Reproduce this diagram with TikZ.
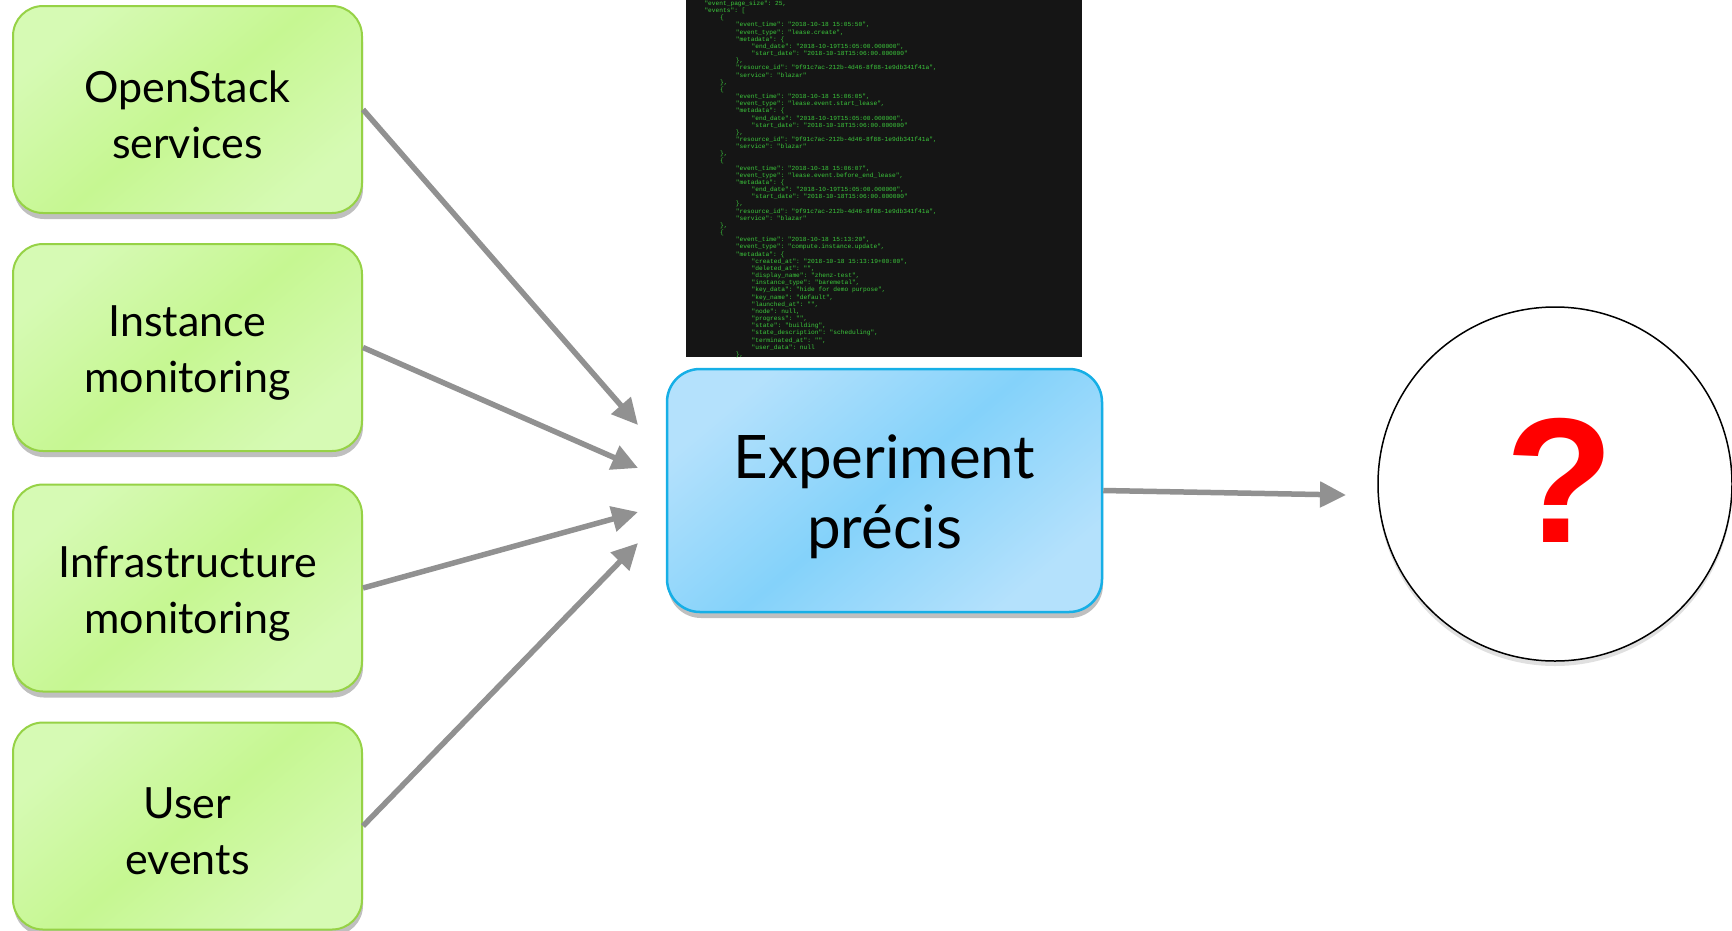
\documentclass[tikz,border=0pt]{standalone}
\usepackage{fontspec}
\setmainfont{Lato}
\setmonofont{Liberation Mono}
\newfontfamily\qfont{Liberation Sans}
\usetikzlibrary{arrows.meta,shadows}
\definecolor{greenlight}{RGB}{214,250,180}
\definecolor{greenmid}{RGB}{198,247,146}
\definecolor{greenborder}{RGB}{150,210,70}
\definecolor{bluelight}{RGB}{180,225,252}
\definecolor{bluemid}{RGB}{132,210,250}
\definecolor{blueborder}{RGB}{22,175,230}
\definecolor{arrowgray}{RGB}{145,145,145}
\definecolor{termbg}{RGB}{21,21,21}
\definecolor{termgreen}{RGB}{60,200,60}
\definecolor{qred}{RGB}{255,0,0}
\tikzset{
  srcbox/.style={draw=greenborder, line width=2pt, rounded corners=30pt,
    minimum width=349pt, minimum height=207pt, inner sep=0pt,
    top color=greenlight, bottom color=greenlight, middle color=greenmid, shading angle=40,
    drop shadow={shadow xshift=1pt, shadow yshift=-6pt, opacity=0.25, fill=black}},
  srctext/.style={inner sep=0pt, align=center, font=\fontsize{43}{56}\selectfont},
  midbox/.style={draw=blueborder, line width=2.5pt, rounded corners=33pt,
    minimum width=435pt, minimum height=243pt, inner sep=0pt,
    top color=bluelight, bottom color=bluelight, middle color=bluemid, shading angle=40,
    drop shadow={shadow xshift=1pt, shadow yshift=-6pt, opacity=0.25, fill=black}},
  midtext/.style={inner sep=0pt, align=center, font=\fontsize{60}{70}\selectfont},
  outcircle/.style={circle, draw=black, line width=1.5pt, fill=white, minimum size=354pt, inner sep=0pt,
    drop shadow={shadow xshift=0pt, shadow yshift=-5pt, opacity=0.12, fill=black}},
  qmark/.style={text=qred, inner sep=0pt, font=\qfont\bfseries\fontsize{178}{178}\selectfont},
  term/.style={fill=termbg, draw=none, minimum width=396pt, minimum height=357pt, inner sep=0pt, anchor=north west},
  jline/.style={text=termgreen, inner sep=0pt, anchor=base west, font=\ttfamily\fontsize{6.2}{7}\selectfont},
  flow/.style={draw=arrowgray, line width=5.5pt, -{Triangle[length=26pt,width=25pt]}}
}
\newcommand\jl[3]{\node[jline] (j#2) at ({704.3+15.7*#1},{5.4+7.163*(#2-1)}) {#3};}
\begin{document}
\begin{tikzpicture}[x=1pt,y=-1pt]
\useasboundingbox (0,0) rectangle (1732,930);
% terminal
\node[term] (term) at (686,0) {};
\jl{0}{1}{"event\_page\_size": 25,}
\jl{0}{2}{"events": [}
\jl{1}{3}{\{}
\jl{2}{4}{"event\_time": "2018-10-18 15:05:50",}
\jl{2}{5}{"event\_type": "lease.create",}
\jl{2}{6}{"metadata": \{}
\jl{3}{7}{"end\_date": "2018-10-19T15:05:00.000000",}
\jl{3}{8}{"start\_date": "2018-10-18T15:06:00.000000"}
\jl{2}{9}{\},}
\jl{2}{10}{"resource\_id": "9f91c7ac-212b-4d46-8f88-1e9db341f41a",}
\jl{2}{11}{"service": "blazar"}
\jl{1}{12}{\},}
\jl{1}{13}{\{}
\jl{2}{14}{"event\_time": "2018-10-18 15:06:05",}
\jl{2}{15}{"event\_type": "lease.event.start\_lease",}
\jl{2}{16}{"metadata": \{}
\jl{3}{17}{"end\_date": "2018-10-19T15:05:00.000000",}
\jl{3}{18}{"start\_date": "2018-10-18T15:06:00.000000"}
\jl{2}{19}{\},}
\jl{2}{20}{"resource\_id": "9f91c7ac-212b-4d46-8f88-1e9db341f41a",}
\jl{2}{21}{"service": "blazar"}
\jl{1}{22}{\},}
\jl{1}{23}{\{}
\jl{2}{24}{"event\_time": "2018-10-18 15:06:07",}
\jl{2}{25}{"event\_type": "lease.event.before\_end\_lease",}
\jl{2}{26}{"metadata": \{}
\jl{3}{27}{"end\_date": "2018-10-19T15:05:00.000000",}
\jl{3}{28}{"start\_date": "2018-10-18T15:06:00.000000"}
\jl{2}{29}{\},}
\jl{2}{30}{"resource\_id": "9f91c7ac-212b-4d46-8f88-1e9db341f41a",}
\jl{2}{31}{"service": "blazar"}
\jl{1}{32}{\},}
\jl{1}{33}{\{}
\jl{2}{34}{"event\_time": "2018-10-18 15:13:20",}
\jl{2}{35}{"event\_type": "compute.instance.update",}
\jl{2}{36}{"metadata": \{}
\jl{3}{37}{"created\_at": "2018-10-18 15:13:19+00:00",}
\jl{3}{38}{"deleted\_at": "",}
\jl{3}{39}{"display\_name": "zhenz-test",}
\jl{3}{40}{"instance\_type": "baremetal",}
\jl{3}{41}{"key\_data": "hide for demo purpose",}
\jl{3}{42}{"key\_name": "default",}
\jl{3}{43}{"launched\_at": "",}
\jl{3}{44}{"node": null,}
\jl{3}{45}{"progress": "",}
\jl{3}{46}{"state": "building",}
\jl{3}{47}{"state\_description": "scheduling",}
\jl{3}{48}{"terminated\_at": "",}
\jl{3}{49}{"user\_data": null}
\jl{2}{50}{\},}
% source boxes
\node[srcbox] (b1) at (187.5,109.5) {};
\node[srcbox] (b2) at (187.5,347.5) {};
\node[srcbox] (b3) at (187.5,588) {};
\node[srcbox] (b4) at (187.5,826) {};
\node[srctext] (b1t) at (187.5,115) {OpenStack\\services};
\node[srctext] (b2t) at (187.5,353) {Instance\\monitoring};
\node[srctext] (b3t) at (187.5,593.5) {Infrastructure\\monitoring};
\node[srctext] (b4t) at (187.5,831.5) {User\\events};
% middle box
\node[midbox] (mid) at (884.5,490.5) {};
\node[midtext] (midt) at (884.5,497) {Experiment\\précis};
% circle
\node[outcircle] (circ) at (1555,484) {};
\node[qmark] (q) at (1560,480) {?};
% arrow ends
\coordinate (t1) at (638,425);
\coordinate (t2) at (638,468);
\coordinate (t3) at (638,512);
\coordinate (t4) at (638,543);
\coordinate (tout) at (1346,495);
\draw[flow] (b1.east) -- (t1);
\draw[flow] (b2.east) -- (t2);
\draw[flow] (b3.east) -- (t3);
\draw[flow] (b4.east) -- (t4);
\draw[flow] (mid.east) -- (tout);
\end{tikzpicture}
\end{document}
